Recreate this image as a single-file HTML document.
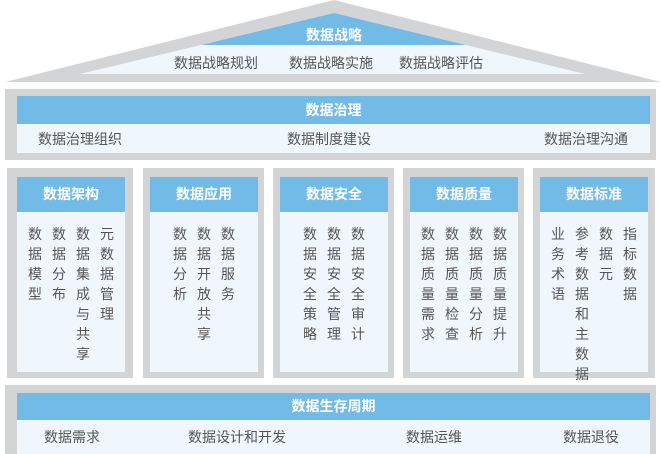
<!DOCTYPE html>
<html><head><meta charset="utf-8"><style>
*{margin:0;padding:0;box-sizing:border-box}
body{width:661px;height:454px;background:#fff;position:relative;overflow:hidden;font-family:"Liberation Sans","Noto Sans CJK SC",sans-serif;color:#555}
.a{position:absolute}
.gray{background:#d3d4d6}
.blue{background:#72bbe6;color:#fff;font-weight:bold;font-size:14px;text-align:center}
.light{background:#eff7fd}
.t{font-size:14px;position:absolute;white-space:nowrap}
.cols{position:absolute;top:224px;display:flex;justify-content:center;gap:10px;font-size:14px;line-height:20px}
.cols div{width:14px;word-break:break-all}
</style></head><body>
<svg class="a" style="left:0;top:0" width="661" height="90">
<polygon points="334,0 661,82 5,82" fill="#d3d4d6"/>
<polygon points="334,13 585,74 80,74" fill="#eff7fd"/>
<clipPath id="c"><polygon points="334,13 585,74 80,74"/></clipPath>
<rect x="0" y="0" width="661" height="45" fill="#72bbe6" clip-path="url(#c)"/>
<text x="334" y="40" text-anchor="middle" fill="#fff" font-weight="bold" font-size="14" font-family="Liberation Sans, Noto Sans CJK SC, sans-serif">数据战略</text>
<text x="216" y="68" text-anchor="middle" fill="#555" font-size="14" font-family="Liberation Sans, Noto Sans CJK SC, sans-serif">数据战略规划</text>
<text x="331" y="68" text-anchor="middle" fill="#555" font-size="14" font-family="Liberation Sans, Noto Sans CJK SC, sans-serif">数据战略实施</text>
<text x="441" y="68" text-anchor="middle" fill="#555" font-size="14" font-family="Liberation Sans, Noto Sans CJK SC, sans-serif">数据战略评估</text>
</svg>

<div class="a gray" style="left:5px;top:89px;width:651px;height:71px"></div>
<div class="a blue" style="left:17px;top:96px;width:633px;height:28px;line-height:28px">数据治理</div>
<div class="a light" style="left:17px;top:124px;width:633px;height:29px"></div>
<div class="t" style="left:38px;top:129px">数据治理组织</div>
<div class="t" style="left:287px;top:129px">数据制度建设</div>
<div class="t" style="left:544px;top:129px">数据治理沟通</div>

<div class="a gray" style="left:7px;top:168px;width:126px;height:210px"></div>
<div class="a blue" style="left:17px;top:177px;width:108px;height:35px;line-height:35px">数据架构</div>
<div class="a light" style="left:17px;top:212px;width:108px;height:160px"></div>
<div class="cols" style="left:17px;width:108px"><div>数据模型</div><div>数据分布</div><div>数据集成与共享</div><div>元数据管理</div></div>

<div class="a gray" style="left:143px;top:168px;width:121px;height:210px"></div>
<div class="a blue" style="left:150px;top:177px;width:108px;height:35px;line-height:35px">数据应用</div>
<div class="a light" style="left:150px;top:212px;width:108px;height:160px"></div>
<div class="cols" style="left:150px;width:108px"><div>数据分析</div><div>数据开放共享</div><div>数据服务</div></div>

<div class="a gray" style="left:273px;top:168px;width:121px;height:210px"></div>
<div class="a blue" style="left:280px;top:177px;width:108px;height:35px;line-height:35px">数据安全</div>
<div class="a light" style="left:280px;top:212px;width:108px;height:160px"></div>
<div class="cols" style="left:280px;width:108px"><div>数据安全策略</div><div>数据安全管理</div><div>数据安全审计</div></div>

<div class="a gray" style="left:403px;top:168px;width:121px;height:210px"></div>
<div class="a blue" style="left:410px;top:177px;width:108px;height:35px;line-height:35px">数据质量</div>
<div class="a light" style="left:410px;top:212px;width:108px;height:160px"></div>
<div class="cols" style="left:410px;width:108px"><div>数据质量需求</div><div>数据质量检查</div><div>数据质量分析</div><div>数据质量提升</div></div>

<div class="a gray" style="left:533px;top:168px;width:122px;height:210px"></div>
<div class="a blue" style="left:540px;top:177px;width:108px;height:35px;line-height:35px">数据标准</div>
<div class="a light" style="left:540px;top:212px;width:108px;height:160px"></div>
<div class="cols" style="left:540px;width:108px"><div>业务术语</div><div>参考数据和主数据</div><div>数据元</div><div>指标数据</div></div>

<div class="a gray" style="left:5px;top:385px;width:651px;height:69px"></div>
<div class="a blue" style="left:17px;top:393px;width:633px;height:27px;line-height:27px">数据生存周期</div>
<div class="a light" style="left:17px;top:420px;width:633px;height:34px"></div>
<div class="t" style="left:44px;top:427px">数据需求</div>
<div class="t" style="left:188px;top:427px">数据设计和开发</div>
<div class="t" style="left:406px;top:427px">数据运维</div>
<div class="t" style="left:563px;top:427px">数据退役</div>
</body></html>
